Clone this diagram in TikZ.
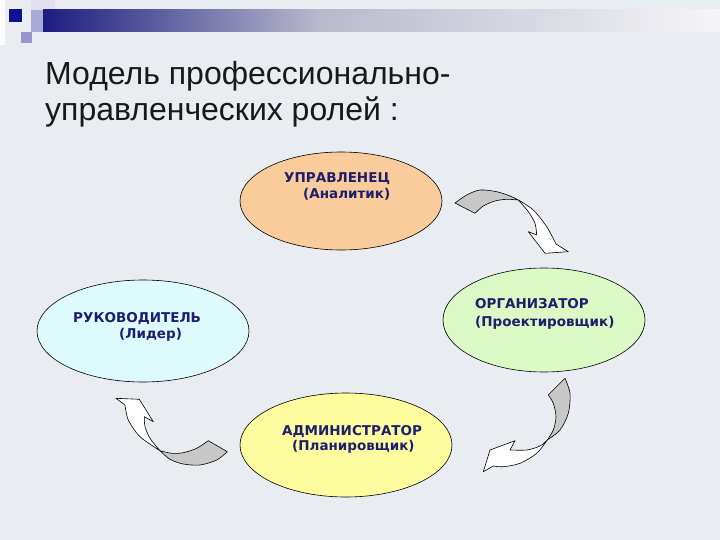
\documentclass[tikz,border=0pt]{standalone}
\usepackage{fontspec}
\setmainfont{Liberation Sans}
\newfontfamily\lblfont{DejaVu Sans}
\usetikzlibrary{shapes.geometric}
\definecolor{bg}{RGB}{233,236,240}
\definecolor{navytext}{RGB}{30,30,110}
\definecolor{orangefill}{RGB}{250,204,156}
\definecolor{cyanfill}{RGB}{221,251,252}
\definecolor{greenfill}{RGB}{218,249,196}
\definecolor{yellowfill}{RGB}{253,253,160}
\definecolor{grayarrow}{RGB}{200,200,200}
\definecolor{barnavy}{RGB}{28,28,128}
\definecolor{barmid}{RGB}{185,185,205}
\definecolor{barlight}{RGB}{245,245,247}
\definecolor{sqpale}{RGB}{225,225,240}
\definecolor{sqlav}{RGB}{170,170,216}
\definecolor{sqnavy}{RGB}{16,16,144}
\definecolor{sqlow}{RGB}{150,150,204}
\tikzset{
  role/.style={ellipse, draw=black, line width=0.6pt, inner sep=0pt},
  lbl/.style={anchor=base west, inner sep=0pt, text=navytext, font=\lblfont\bfseries\fontsize{13.5}{15}\selectfont},
  ttl/.style={anchor=base west, inner sep=0pt, text=black!90, font=\fontsize{32}{36}\selectfont},
  back/.style={fill=grayarrow, draw=black, line width=0.6pt, line join=round},
  front/.style={fill=white, draw=black, line width=0.6pt, line join=round}
}
\begin{document}
\begin{tikzpicture}[x=1pt,y=-1pt]
\fill[bg] (0,0) rectangle (720,540);
\useasboundingbox (0,0) rectangle (720,540);
% header decoration
\fill[white!80!bg] (0,0) rectangle (5,45);
\fill[sqpale] (31,0) rectangle (55,10);
\fill[sqlav] (31,10) rectangle (43,32);
\shade[left color=barnavy, right color=barmid] (43,10) rectangle (320,32);
\shade[left color=barmid, right color=barlight] (320,10) rectangle (720,32);
\fill[sqnavy] (9,9) rectangle (22,22);
\fill[sqlow] (21,32) rectangle (32,43);
% title
\node[ttl] (t1) at (45,85) {Модель профессионально-};
\node[ttl] (t2) at (45,121) {управленческих ролей :};
% ellipses
\node[role, fill=orangefill, minimum width=202pt, minimum height=98pt] (upr) at (341,201) {};
\node[role, fill=cyanfill, minimum width=212pt, minimum height=102pt] (ruk) at (143,331) {};
\node[role, fill=greenfill, minimum width=202pt, minimum height=104pt] (org) at (544,320) {};
\node[role, fill=yellowfill, minimum width=212pt, minimum height=104pt] (adm) at (346,445) {};
% labels
\node[lbl] (u1) at (284,183) {УПРАВЛЕНЕЦ};
\node[lbl] (u2) at (303,199) {(Аналитик)};
\node[lbl] (r1) at (73,322) {РУКОВОДИТЕЛЬ};
\node[lbl] (r2) at (119,338) {(Лидер)};
\node[lbl] (o1) at (475,308) {ОРГАНИЗАТОР};
\node[lbl] (o2) at (475,326) {(Проектировщик)};
\node[lbl] (a1) at (282,435) {АДМИНИСТРАТОР};
\node[lbl] (a2) at (292,450) {(Планировщик)};
% arrow 1 (top right)
\path[back] (455,203) -- plot[smooth] coordinates {(455,203) (466.7,195) (480,190) (496.7,191.7) (510,196) (518.3,200)}
  -- plot[smooth] coordinates {(518.3,200) (506.7,199.3) (495,201) (483.3,206) (475,213.3)} -- cycle;
\path[front] (518.3,200) -- plot[smooth] coordinates {(518.3,200) (533.3,210) (546.7,226.7) (556,244)}
  -- (568.3,251.7) -- (545,253.3) -- (528.3,231.7) -- (536.7,235)
  -- plot[smooth] coordinates {(536.7,235) (535,223.3) (528.3,211.7) (518.3,200)} -- cycle;
% arrow 2 (bottom right)
\path[back] (565,378.3) -- plot[smooth] coordinates {(565,378.3) (570,393.3) (568.3,413.3) (560,430) (547.3,440)}
  -- plot[smooth] coordinates {(547.3,440) (553.3,430) (556,416.7) (553.3,403.3) (548.3,395)} -- cycle;
\path[front] (547.3,440) -- plot[smooth] coordinates {(547.3,440) (536.7,453.3) (520,463.3) (503.3,466.7) (493.3,466)}
  -- (483.3,471.7) -- (490,450) -- (515,440.7) -- (510,450)
  -- plot[smooth] coordinates {(510,450) (526.7,450) (540,446) (547.3,440)} -- cycle;
% arrow 3 (bottom left)
\path[back] (208.3,440.7) -- plot[smooth] coordinates {(208.3,440.7) (196.7,448.3) (183.3,452.7) (171.7,453.3) (160,450.7)}
  -- plot[smooth] coordinates {(160,450.7) (170,459.3) (183.3,464) (200,465) (216.7,460) (227.3,451.7)} -- cycle;
\path[front] (160,450.7) -- plot[smooth] coordinates {(160,450.7) (140,436.7) (128.3,420) (125,405)}
  -- (116,398.3) -- (139.3,399.3) -- (153.3,421.7) -- (144.3,416.7)
  -- plot[smooth] coordinates {(144.3,416.7) (145,426.7) (150,438.3) (160,450.7)} -- cycle;
\end{tikzpicture}
\end{document}
